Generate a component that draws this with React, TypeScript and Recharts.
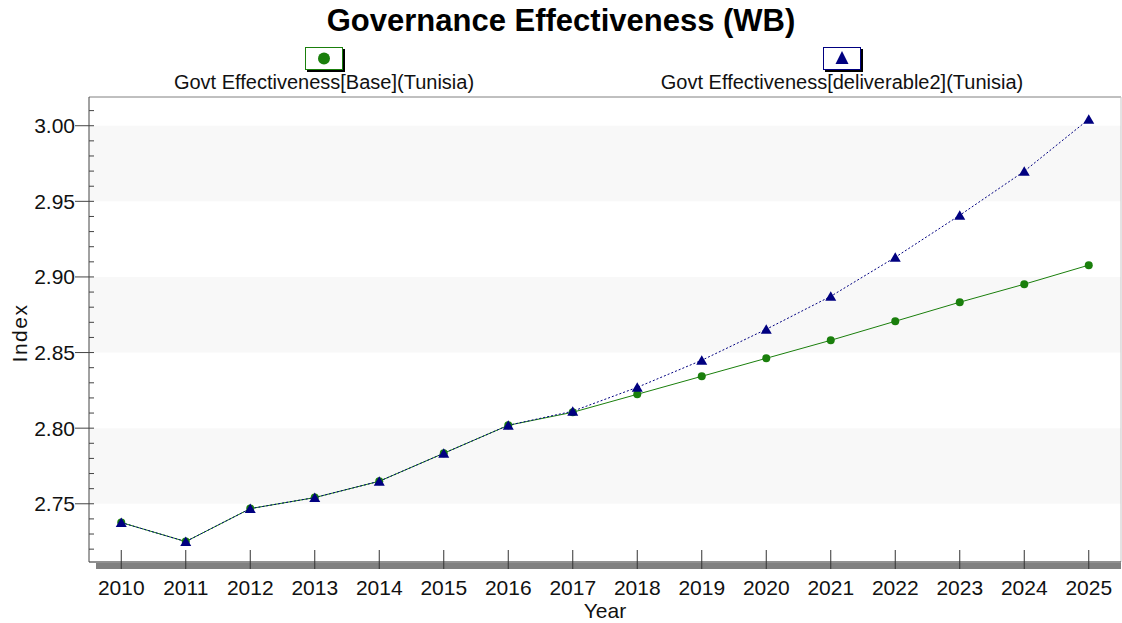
import React from 'react';
import {
  LineChart,
  Line,
  XAxis,
  YAxis,
  ReferenceArea,
  ReferenceLine,
} from 'recharts';

// years on the x axis
const years = [2010, 2011, 2012, 2013, 2014, 2015, 2016, 2017, 2018, 2019, 2020, 2021, 2022, 2023, 2024, 2025];

// Govt Effectiveness[Base](Tunisia)
const baseValues = [2.7376, 2.725, 2.7468, 2.7541, 2.7649, 2.7834, 2.8019, 2.8105, 2.8224, 2.8343, 2.8462, 2.8581, 2.8707, 2.8833, 2.8952, 2.9078];

// Govt Effectiveness[deliverable2](Tunisia)
const deliverableValues = [2.7376, 2.725, 2.7468, 2.7541, 2.7649, 2.7834, 2.8019, 2.8112, 2.827, 2.8449, 2.8654, 2.8872, 2.913, 2.9408, 2.9699, 3.0043];

const yMajorTicks = [2.75, 2.8, 2.85, 2.9, 2.95, 3.0];
const yMinorTicks = [2.72, 2.73, 2.74, 2.76, 2.77, 2.78, 2.79, 2.81, 2.82, 2.83, 2.84, 2.86, 2.87, 2.88, 2.89, 2.91, 2.92, 2.93, 2.94, 2.96, 2.97, 2.98, 2.99, 3.01];
const shadedBands = [[2.75, 2.8], [2.85, 2.9], [2.95, 3.0]];

const yMin = 2.7115;
const yMax = 3.019;

const FONT = '"Liberation Sans", Arial, sans-serif';
const GREEN = '#1a7f0c';
const NAVY = '#000080';

const data = years.map((year, i) => ({
  year,
  base: baseValues[i],
  deliverable: deliverableValues[i],
}));

const YTick = (props: any) => {
  const { x, y, payload } = props;
  const major = yMajorTicks.some((t) => Math.abs(t - payload.value) < 1e-6);
  return (
    <g>
      <line x1={major ? x - 14 : x} x2={x + 5} y1={y} y2={y} stroke="#444" />
      {major && (
        <text x={x - 14} y={y} textAnchor="end" dominantBaseline="central" fontSize={21} fontFamily={FONT} fill="#111">
          {payload.value.toFixed(2)}
        </text>
      )}
    </g>
  );
};

const XTick = (props: any) => {
  const { x, y, payload } = props;
  return (
    <g>
      <line x1={x} x2={x} y1={y - 12} y2={y + 7} stroke="#333" />
      <text x={x} y={y + 25} textAnchor="middle" dominantBaseline="central" fontSize={21} fontFamily={FONT} fill="#111">
        {payload.value}
      </text>
    </g>
  );
};

const GreenDot = (props: any) => {
  const { cx, cy, index } = props;
  return <circle key={'g' + index} cx={cx} cy={cy} r={4} fill={GREEN} />;
};

const NavyTriangle = (props: any) => {
  const { cx, cy, index } = props;
  return <path key={'n' + index} d={`M${cx},${cy - 5} L${cx + 5.5},${cy + 4.5} L${cx - 5.5},${cy + 4.5} Z`} fill={NAVY} />;
};

const legendBox: React.CSSProperties = {
  position: 'absolute',
  top: 47,
  width: 38,
  height: 23,
  boxSizing: 'border-box',
  background: '#fff',
  boxShadow: '2px 2px 0 #000',
};

const legendLabel: React.CSSProperties = {
  position: 'absolute',
  top: 71,
  width: 440,
  textAlign: 'center',
  fontSize: 20,
  lineHeight: '22px',
  fontFamily: FONT,
  color: '#111',
  whiteSpace: 'nowrap',
};

export default function App() {
  return (
    <div style={{ position: 'relative', width: 1122, height: 623, background: '#fff', fontFamily: FONT }}>
      <style>{'body{margin:0}'}</style>
      <div style={{ position: 'absolute', left: 0, top: 3, width: 1122, textAlign: 'center', fontSize: 31, fontWeight: 'bold', lineHeight: '36px', color: '#000' }}>
        Governance Effectiveness (WB)
      </div>

      <div style={{ ...legendBox, left: 305, border: `1px solid ${GREEN}` }}>
        <svg width={36} height={21} style={{ display: 'block' }}>
          <circle cx={18} cy={10.5} r={6} fill={GREEN} />
        </svg>
      </div>
      <div style={{ ...legendLabel, left: 324 - 220 }}>Govt Effectiveness[Base](Tunisia)</div>

      <div style={{ ...legendBox, left: 823, border: `1px solid ${NAVY}` }}>
        <svg width={36} height={21} style={{ display: 'block' }}>
          <path d="M18,3 L24.5,16 L11.5,16 Z" fill={NAVY} />
        </svg>
      </div>
      <div style={{ ...legendLabel, left: 842 - 220 }}>Govt Effectiveness[deliverable2](Tunisia)</div>

      {/* grey shadow strip under the x axis */}
      <div style={{ position: 'absolute', left: 96, top: 563, width: 1025, height: 6, background: '#808080' }} />

      <div style={{ position: 'absolute', left: 0, top: 0 }}>
        <LineChart width={1122} height={623} data={data} margin={{ top: 97, right: 1, left: 0, bottom: 0 }}>
          {shadedBands.map(([a, b]) => (
            <ReferenceArea key={a} y1={a} y2={b} fill="#f8f8f8" fillOpacity={1} stroke="none" ifOverflow="hidden" />
          ))}
          <ReferenceLine y={yMax} stroke="#808080" />
          <ReferenceLine x={2025.5} stroke="#c8c8c8" />
          <XAxis
            dataKey="year"
            type="number"
            domain={[2009.5, 2025.5]}
            ticks={years}
            allowDataOverflow
            height={61}
            tickSize={0}
            tickMargin={0}
            tickLine={false}
            axisLine={{ stroke: '#222' }}
            tick={<XTick />}
            interval={0}
          />
          <YAxis
            type="number"
            domain={[yMin, yMax]}
            ticks={[...yMajorTicks, ...yMinorTicks].sort((a, b) => a - b)}
            allowDataOverflow
            width={89}
            tickSize={0}
            tickMargin={0}
            tickLine={false}
            axisLine={{ stroke: '#444' }}
            tick={<YTick />}
            interval={0}
          />
          <Line dataKey="base" stroke={GREEN} strokeWidth={1} dot={GreenDot} activeDot={false} isAnimationActive={false} />
          <Line dataKey="deliverable" stroke={NAVY} strokeWidth={1} strokeDasharray="2 2" dot={NavyTriangle} activeDot={false} isAnimationActive={false} />
        </LineChart>
      </div>

      <div style={{ position: 'absolute', left: 505, top: 599, width: 200, textAlign: 'center', fontSize: 21, lineHeight: '24px', color: '#111' }}>
        Year
      </div>
      <div style={{ position: 'absolute', left: 20 - 50, top: 333 - 12, width: 100, textAlign: 'center', fontSize: 21, lineHeight: '24px', letterSpacing: 1.5, color: '#111', transform: 'rotate(-90deg)' }}>
        Index
      </div>
    </div>
  );
}
